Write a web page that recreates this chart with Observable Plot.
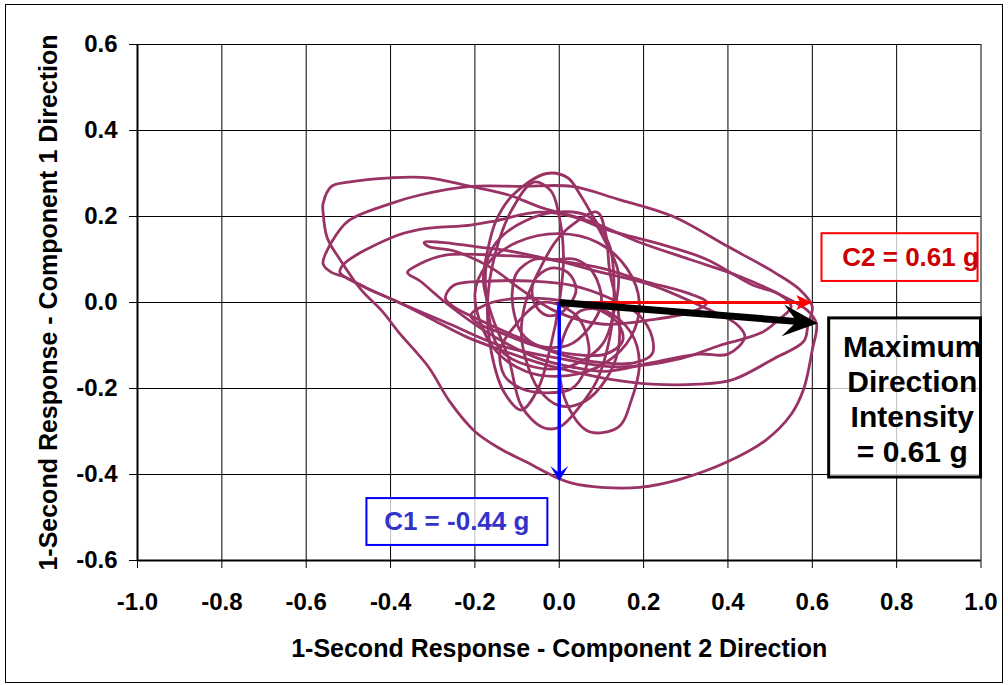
<!DOCTYPE html>
<html><head><meta charset="utf-8">
<script src="https://cdn.jsdelivr.net/npm/d3@7"></script>
<script src="https://cdn.jsdelivr.net/npm/@observablehq/plot@0.6"></script>
<style>
html,body{margin:0;padding:0;background:#fff;}
#wrap{position:relative;width:1008px;height:685px;overflow:hidden;}
#frame{position:absolute;left:5px;top:4px;width:996px;height:677px;border:1.5px solid #000;pointer-events:none;}
</style></head><body>
<div id="wrap"><div id="frame"></div></div>
<script>
// ---------- data ----------
const xTicks = [-1.0, -0.8, -0.6, -0.4, -0.2, 0.0, 0.2, 0.4, 0.6, 0.8, 1.0];
const yTicks = [-0.6, -0.4, -0.2, 0.0, 0.2, 0.4, 0.6];
const xTitle = "1-Second Response - Component 2 Direction";
const yTitle = "1-Second Response - Component 1 Direction";

// orbit loops (component 2, component 1)
const loopOuter = [[-0.56,0.23],[-0.54,0.27],[-0.50,0.28],[-0.40,0.29],[-0.31,0.29],[-0.21,0.27],[-0.12,0.25],[-0.04,0.22],[0.07,0.19],[0.19,0.14],[0.31,0.10],[0.43,0.06],[0.54,0.01],[0.59,-0.02],[0.61,-0.05],[0.60,-0.11],[0.58,-0.20],[0.55,-0.26],[0.49,-0.32],[0.40,-0.37],[0.29,-0.41],[0.19,-0.43],[0.10,-0.43],[0.03,-0.42],[0.00,-0.41],[-0.08,-0.37],[-0.14,-0.34],[-0.20,-0.30],[-0.26,-0.23],[-0.31,-0.15],[-0.38,-0.07],[-0.42,-0.02],[-0.47,0.03],[-0.52,0.10],[-0.55,0.15],[-0.56,0.21]];
const loopSecond = [[-0.56,0.09],[-0.54,0.14],[-0.50,0.19],[-0.40,0.23],[-0.33,0.25],[-0.21,0.27],[-0.09,0.27],[0.03,0.27],[0.14,0.24],[0.27,0.20],[0.40,0.13],[0.51,0.07],[0.57,0.03],[0.60,-0.01],[0.59,-0.05],[0.58,-0.09],[0.51,-0.13],[0.41,-0.18],[0.33,-0.19],[0.22,-0.19],[0.13,-0.18],[0.03,-0.16],[-0.05,-0.14],[-0.14,-0.11],[-0.22,-0.08],[-0.30,-0.04],[-0.38,0.00],[-0.45,0.03],[-0.51,0.06],[-0.54,0.07]];
const loopThird = [[-0.52,0.07],[-0.51,0.09],[-0.40,0.15],[-0.33,0.17],[-0.21,0.18],[-0.15,0.19],[-0.05,0.21],[0.03,0.20],[0.11,0.17],[0.26,0.13],[0.35,0.10],[0.46,0.04],[0.52,0.02],[0.55,-0.01],[0.52,-0.04],[0.48,-0.07],[0.38,-0.10],[0.29,-0.13],[0.14,-0.15],[0.00,-0.13],[-0.14,-0.10],[-0.26,-0.05],[-0.38,0.00],[-0.47,0.04]];
const loopTipA = [[-0.32,0.14],[-0.28,0.14],[-0.20,0.13],[-0.12,0.12],[-0.02,0.10],[0.10,0.08],[0.20,0.05],[0.31,0.02],[0.35,0.00],[0.32,-0.02],[0.22,-0.04],[0.10,-0.05],[-0.01,-0.02],[-0.09,0.03],[-0.16,0.08],[-0.25,0.12],[-0.31,0.13]];
const loopTipB = [[-0.36,0.07],[-0.33,0.09],[-0.27,0.11],[-0.15,0.11],[-0.02,0.10],[0.10,0.07],[0.22,0.04],[0.34,-0.01],[0.42,-0.05],[0.44,-0.08],[0.40,-0.12],[0.33,-0.12],[0.22,-0.14],[0.11,-0.16],[0.03,-0.15],[-0.05,-0.13],[-0.17,-0.07],[-0.27,0.00],[-0.33,0.05]];
const loopTipC = [[-0.27,0.01],[-0.25,0.04],[-0.16,0.05],[-0.07,0.05],[0.03,0.04],[0.12,0.01],[0.19,-0.03],[0.22,-0.08],[0.22,-0.12],[0.18,-0.14],[0.10,-0.14],[0.00,-0.12],[-0.10,-0.08],[-0.19,-0.04],[-0.25,-0.01]];
const loopTipD = [[-0.21,-0.03],[-0.16,0.00],[-0.07,0.01],[0.03,0.00],[0.10,-0.02],[0.14,-0.05],[0.15,-0.09],[0.11,-0.12],[0.03,-0.12],[-0.06,-0.10],[-0.14,-0.07],[-0.19,-0.05]];
const loopTall = [[-0.03,0.30],[0.02,0.29],[0.05,0.25],[0.08,0.20],[0.12,0.13],[0.13,0.02],[0.12,-0.08],[0.09,-0.18],[0.05,-0.24],[0.00,-0.29],[-0.04,-0.29],[-0.09,-0.24],[-0.12,-0.13],[-0.16,-0.03],[-0.18,0.05],[-0.17,0.12],[-0.15,0.19],[-0.11,0.25]];
const loopLeftTall = [[-0.06,0.28],[-0.02,0.26],[0.00,0.20],[0.01,0.10],[0.00,0.00],[-0.02,-0.10],[-0.05,-0.20],[-0.09,-0.25],[-0.13,-0.21],[-0.16,-0.12],[-0.17,0.00],[-0.15,0.12],[-0.11,0.22]];
const loopRight = [[0.09,0.21],[0.03,0.18],[-0.01,0.14],[-0.05,0.07],[-0.08,0.00],[-0.09,-0.07],[-0.08,-0.13],[-0.05,-0.20],[0.00,-0.24],[0.06,-0.23],[0.11,-0.18],[0.14,-0.11],[0.14,-0.02],[0.12,0.07],[0.11,0.16]];
const ringLarge = [[-0.17,0.10],[-0.14,0.15],[-0.08,0.19],[-0.01,0.21],[0.07,0.20],[0.11,0.14],[0.14,0.07],[0.13,-0.02],[0.10,-0.10],[0.02,-0.15],[-0.06,-0.15],[-0.14,-0.11],[-0.17,-0.01]];
const ringMid = [[-0.20,0.02],[-0.17,0.09],[-0.10,0.14],[0.00,0.16],[0.09,0.14],[0.16,0.08],[0.19,0.00],[0.17,-0.08],[0.11,-0.14],[0.02,-0.17],[-0.08,-0.16],[-0.16,-0.10]];
const ringSmall = [[-0.11,0.04],[-0.10,0.07],[-0.06,0.10],[-0.01,0.10],[0.04,0.10],[0.08,0.07],[0.10,0.00],[0.07,-0.06],[0.02,-0.10],[-0.05,-0.10],[-0.09,-0.07],[-0.11,-0.01]];
const ringLow = [[-0.04,0.00],[-0.11,-0.06],[-0.14,-0.11],[-0.13,-0.17],[-0.09,-0.20],[-0.03,-0.21],[0.03,-0.20],[0.06,-0.16],[0.07,-0.10],[0.04,-0.03]];
const ringLowRight = [[0.05,-0.02],[0.01,-0.08],[0.00,-0.15],[0.02,-0.24],[0.07,-0.30],[0.14,-0.29],[0.17,-0.23],[0.19,-0.14],[0.17,-0.07],[0.11,-0.02]];
const ringCore = [[0.04,0.03],[0.02,0.07],[-0.02,0.08],[-0.06,0.05],[-0.06,0.00],[-0.03,-0.03],[0.01,-0.02]];

const origin = [0.0, 0.0];
const c2Tip = [0.60, 0.0];      // component 2 response
const c1Tip = [0.0, -0.415];    // component 1 response
const maxTip = [0.613, -0.048]; // maximum direction
const c2Label = "C2 = 0.61 g";
const c1Label = "C1 = -0.44 g";
const maxLabel = "Maximum\nDirection\nIntensity\n= 0.61 g";

// ---------- build ----------
const loops = [loopOuter, loopSecond, loopThird, loopTipA, loopTipB, loopTipC, loopTipD, loopTall, loopLeftTall, loopRight, ringLarge, ringMid, ringSmall, ringLow, ringLowRight, ringCore];
const orbit = loops.flatMap((pts, i) => pts.map(([x, y]) => ({x, y, loop: i})));
const vec = (tip) => [{x1: origin[0], y1: origin[1], x2: tip[0], y2: tip[1]}];

const FONT = "'Liberation Sans', Arial, Helvetica, sans-serif";
const fmt = d => d.toFixed(1);

const svgNode = Plot.plot({
  width: 1008, height: 685,
  marginLeft: 137, marginRight: 27.5, marginTop: 44, marginBottom: 125,
  style: {fontFamily: FONT, fontWeight: "bold", fontSize: "24px", color: "#000", background: "transparent", overflow: "visible"},
  x: {domain: [-1, 1], ticks: xTicks, tickFormat: fmt, tickSize: 8, tickPadding: 24, label: null},
  y: {domain: [-0.6, 0.6], ticks: yTicks, tickFormat: fmt, tickSize: 8, tickPadding: 12, label: null},
  marks: [
    Plot.ruleX(xTicks, {stroke: "#000", strokeWidth: 1}),
    Plot.ruleY(yTicks, {stroke: "#000", strokeWidth: 1}),
    Plot.ruleX([xTicks[0]], {stroke: "#000", strokeWidth: 2}),
    Plot.ruleY([yTicks[0]], {stroke: "#000", strokeWidth: 2}),
    Plot.line(orbit, {x: "x", y: "y", z: "loop", stroke: "#993366", strokeWidth: 2.8, curve: "catmull-rom-closed"}),
    Plot.link(vec(c2Tip), {x1: "x1", y1: "y1", x2: "x2", y2: "y2", stroke: "#FF0000", strokeWidth: 3}),
    Plot.link(vec(c1Tip), {x1: "x1", y1: "y1", x2: "x2", y2: "y2", stroke: "#0000FF", strokeWidth: 3.5}),
    Plot.link(vec(maxTip), {x1: "x1", y1: "y1", x2: "x2", y2: "y2", stroke: "#000", strokeWidth: 7}),
    // annotation boxes
    Plot.rect([c2Label], {x1: 0.623, x2: 0.993, y1: 0.049, y2: 0.160, fill: "#fff", fillOpacity: 0.75, stroke: "#FF0000", strokeWidth: 2}),
    Plot.text([c2Label], {x: 0.833, y: 0.105, text: d => d, fill: "#CC0000", fontSize: 26, fontWeight: "bold"}),
    Plot.rect([c1Label], {x1: -0.456, x2: -0.027, y1: -0.565, y2: -0.456, fill: "#fff", fillOpacity: 0.75, stroke: "#0000FF", strokeWidth: 2}),
    Plot.text([c1Label], {x: -0.243, y: -0.509, text: d => d, fill: "#3333CC", fontSize: 26, fontWeight: "bold"}),
    Plot.rect([maxLabel], {x1: 0.640, x2: 1.0, y1: -0.407, y2: -0.037, fill: "#fff", fillOpacity: 0.75, stroke: "#000", strokeWidth: 3}),
    Plot.text([maxLabel], {x: 0.837, y: -0.222, text: d => d, fill: "#000", fontSize: 30, fontWeight: "bold", lineHeight: 1.17}),
    // axis titles
    Plot.text([xTitle], {frameAnchor: "bottom", dy: 96, text: d => d, fontSize: 25, fontWeight: "bold"}),
    Plot.text([yTitle], {frameAnchor: "left", textAnchor: "middle", dx: -89, rotate: -90, text: d => d, fontSize: 25, fontWeight: "bold"})
  ]
});

const wrap = document.getElementById("wrap");
svgNode.style.position = "absolute";
svgNode.style.left = "0px";
svgNode.style.top = "0px";
wrap.insertBefore(svgNode, wrap.firstChild);

// arrowheads
const svg = d3.select(svgNode);
const defs = svg.append("defs");
function addMarker(id, color, d) {
  defs.append("marker").attr("id", id)
    .attr("markerUnits", "userSpaceOnUse")
    .attr("viewBox", "-50 -25 60 50")
    .attr("markerWidth", 60).attr("markerHeight", 50)
    .attr("refX", 0).attr("refY", 0)
    .attr("orient", "auto")
    .attr("overflow", "visible")
    .append("path").attr("d", d).attr("fill", color).attr("stroke", "none");
}
addMarker("head-red", "#FF0000", "M0,0L-16,-7.5L-12,0L-16,7.5Z");
addMarker("head-blue", "#0000FF", "M0,0L-15,-9L-8,0L-15,9Z");
addMarker("head-black", "#000000", "M0,0L-35,-16L-21,0L-35,16Z");
const heads = [["head-red", 11], ["head-blue", 7], ["head-black", 19]];
svg.selectAll('g[aria-label="link"]').each(function(_, i) {
  const h = heads[i];
  if (!h) return;
  d3.select(this).selectAll("path").each(function() {
    const L = this.getTotalLength ? this.getTotalLength() : 0;
    d3.select(this).attr("marker-end", `url(#${h[0]})`).attr("stroke-linecap", "butt");
    if (L > h[1]) d3.select(this).attr("stroke-dasharray", `${L - h[1]} ${L + 10}`);
  });
});
</script>
</body></html>
